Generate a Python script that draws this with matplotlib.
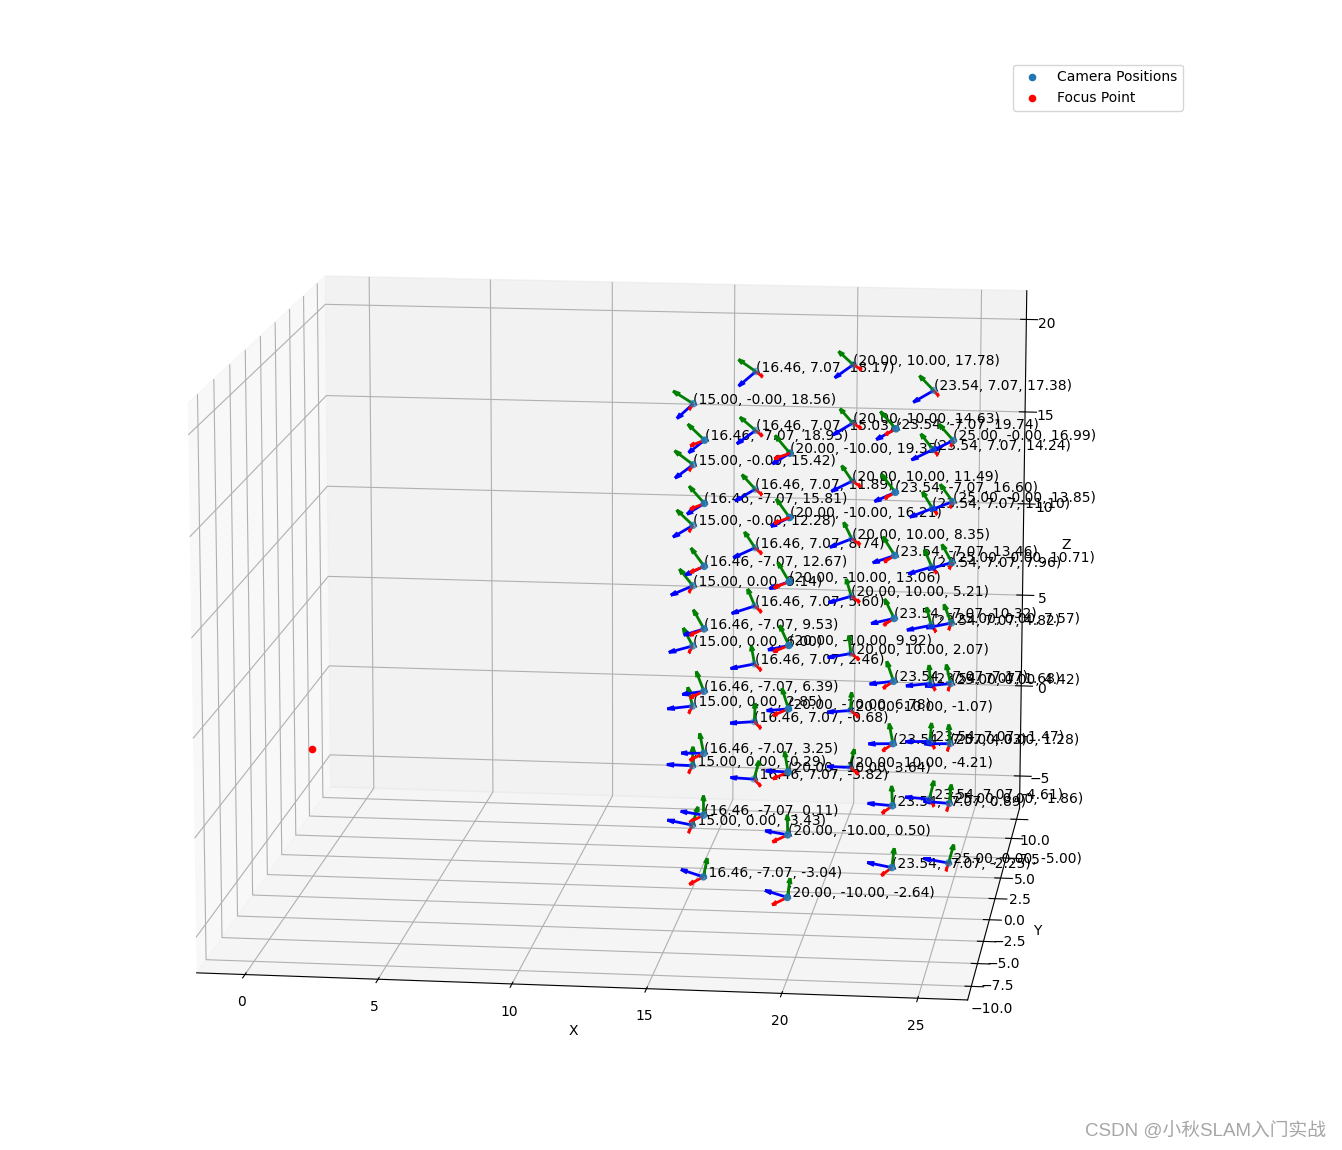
import numpy as np
import matplotlib
matplotlib.use('Agg')
import matplotlib.pyplot as plt

# one list per camera height ring, top of the spiral first
CAM_X = [23.54, 20.00, 16.46, 15.00, 16.46, 20.00, 23.54, 25.00] * 8
CAM_Y = [-7.07, -10.00, -7.07, -0.0, 7.07, 10.00, 7.07, -0.0,
         -7.07, -10.00, -7.07, -0.0, 7.07, 10.00, 7.07, -0.0,
         -7.07, -10.00, -7.07, -0.0, 7.07, 10.00, 7.07, -0.0,
         -7.07, -10.00, -7.07, 0.0, 7.07, 10.00, 7.07, 0.0,
         -7.07, -10.00, -7.07, 0.0, 7.07, 10.00, 7.07, 0.0,
         -7.07, -10.00, -7.07, 0.0, 7.07, 10.00, 7.07, 0.0,
         -7.07, -10.00, -7.07, 0.0, 7.07, 10.00, 7.07, 0.0,
         -7.07, -10.00, -7.07, 0.0, 7.07, 10.00, 7.07, 0.0]
CAM_Z = [19.74, 19.35, 18.95, 18.56, 18.17, 17.78, 17.38, 16.99,
         16.60, 16.21, 15.81, 15.42, 15.03, 14.63, 14.24, 13.85,
         13.46, 13.06, 12.67, 12.28, 11.89, 11.49, 11.10, 10.71,
         10.32, 9.92, 9.53, 9.14, 8.74, 8.35, 7.96, 7.57,
         7.17, 6.78, 6.39, 6.00, 5.60, 5.21, 4.82, 4.42,
         4.03, 3.64, 3.25, 2.85, 2.46, 2.07, 1.68, 1.28,
         0.89, 0.50, 0.11, -0.29, -0.68, -1.07, -1.47, -1.86,
         -2.25, -2.64, -3.04, -3.43, -3.82, -4.21, -4.61, -5.00]
FOCUS = [0.0, 0.0, 0.0]
AXIS_COLORS = ['r', 'g', 'b']


def camera_axes(pos, focus):
    # look-at frame: z to the focus point, y roughly world up
    z = np.array(focus) - np.array(pos)
    z = z / np.linalg.norm(z)
    x = np.cross([0, 0, 1], z)
    x = x / np.linalg.norm(x)
    y = np.cross(z, x)
    return x, y, z


def main():
    fig = plt.figure(figsize=(13.42, 11.5), dpi=100)
    # the square box runs past the bottom of the figure, as in the cropped original
    ax = fig.add_axes([37.5 / 1342, -59 / 1150, 1151 / 1342, 1151 / 1150], projection='3d')

    ax.scatter(CAM_X, CAM_Y, CAM_Z, label='Camera Positions')
    ax.scatter(*[[v] for v in FOCUS], color='r', label='Focus Point')

    for px, py, pz in zip(CAM_X, CAM_Y, CAM_Z):
        for vec, color in zip(camera_axes((px, py, pz), FOCUS), AXIS_COLORS):
            ax.quiver(px, py, pz, vec[0], vec[1], vec[2], length=1.0, color=color, linewidth=2)
        ax.text(px, py, pz, f'({px:.2f}, {py:.2f}, {pz:.2f})', color='black')

    ax.set_xlabel('X')
    ax.set_ylabel('Y')
    ax.set_zlabel('Z')
    ax.view_init(elev=12.5, azim=-82.7)
    ax.legend(loc='upper right', bbox_to_anchor=(1183 / 1342, 1 - 64.5 / 1150),
              bbox_transform=fig.transFigure, borderaxespad=0)

    fig.text(1326 / 1342, 1 - 1132 / 1150, 'CSDN @小秋SLAM入门实战', color='#a6a6a6', fontsize=13.5,
             ha='right', va='center', family=['Liberation Sans', 'Noto Sans CJK SC'])
    fig.savefig('out.png', dpi=100)
    plt.close(fig)


if __name__ == '__main__':
    main()
